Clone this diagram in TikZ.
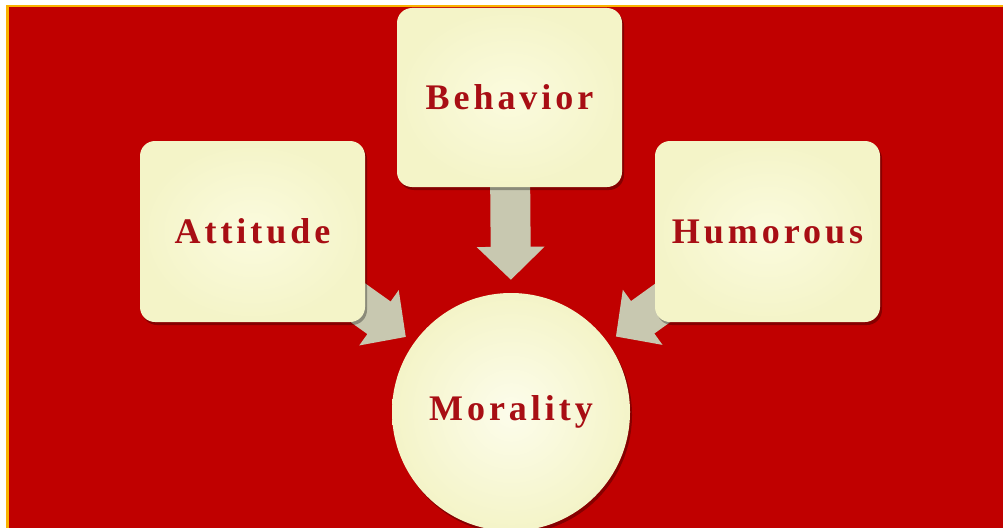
\documentclass[tikz,border=0pt]{standalone}
\usepackage{fontspec}
\newfontfamily\lblfont{Liberation Serif}[LetterSpace=11]
\usetikzlibrary{arrows.meta,shadows,calc}
\definecolor{bgred}{RGB}{192,0,0}
\definecolor{frameorange}{RGB}{250,178,0}
\definecolor{cream}{RGB}{251,251,222}
\definecolor{creamedge}{RGB}{244,244,200}
\definecolor{txtred}{RGB}{168,14,20}
\definecolor{arrowgray}{RGB}{200,200,176}
\pgfdeclarelayer{bg}
\pgfdeclarelayer{arrowlayer}
\pgfsetlayers{bg,arrowlayer,main}
\tikzset{
  panel/.style={rectangle, rounded corners=15pt, minimum width=225pt,
    inner color=cream, outer color=creamedge,
    drop shadow={shadow xshift=2pt, shadow yshift=-3pt, opacity=0.3, fill=black},
    font=\lblfont\bfseries\fontsize{36}{40}\selectfont, text=txtred},
  hub/.style={circle, minimum size=238pt, inner sep=0pt,
    inner color=cream!60!white, outer color=creamedge,
    drop shadow={shadow xshift=2pt, shadow yshift=-3pt, opacity=0.3, fill=black},
    font=\lblfont\bfseries\fontsize{36}{40}\selectfont, text=txtred},
  blockarrow/.style={line width=40pt, draw=arrowgray,
    -{Triangle[width=66pt,length=33pt]}},
}
\begin{document}
\begin{tikzpicture}[x=1pt,y=-1pt]
\useasboundingbox (0,0) rectangle (1003,527);
\clip (0,0) rectangle (1003,527);
\begin{pgfonlayer}{bg}
  \fill[white] (0,0) rectangle (1003,527);
  \draw[frameorange, line width=2.5pt, fill=bgred] (7.25,6.25) rectangle (1015,540);
\end{pgfonlayer}
\node[panel, minimum height=179pt] (beh) at (509.5,97.5) {Behavior};
\node[panel, minimum height=181pt] (att) at (252.5,231.5) {Attitude};
\node[panel, minimum height=181pt] (hum) at (767.5,231.5) {Humorous};
\node[hub] (mor) at (511,412) {Morality};
\begin{pgfonlayer}{arrowlayer}
  \draw[blockarrow, shorten >=13pt] (beh.center) -- (mor.north);
  \draw[blockarrow, shorten >=10pt] ([yshift=4pt]att.center) -- (mor);
  \draw[blockarrow, shorten >=10pt] ([yshift=4pt]hum.center) -- (mor);
\end{pgfonlayer}
\end{tikzpicture}
\end{document}
